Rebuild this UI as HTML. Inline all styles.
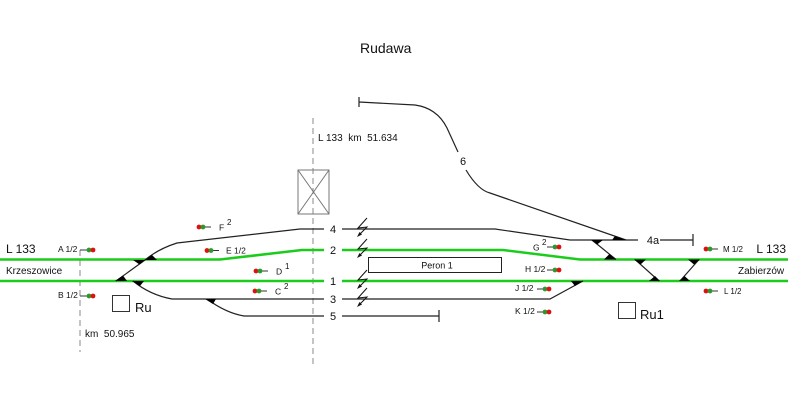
<!DOCTYPE html>
<html><head><meta charset="utf-8"><style>
html,body{margin:0;padding:0;background:#fff;}
svg{display:block;}
text{font-family:"Liberation Sans",Arial,sans-serif;fill:#111;white-space:pre;}
</style></head><body>
<svg width="788" height="401" viewBox="0 0 788 401" xmlns="http://www.w3.org/2000/svg">
<rect width="788" height="401" fill="#fff"/>
<!-- dashed verticals -->
<line x1="313" y1="118" x2="313" y2="367" stroke="#888" stroke-width="1" stroke-dasharray="6,4"/>
<line x1="80" y1="250" x2="80" y2="352" stroke="#888" stroke-width="1" stroke-dasharray="6,4"/>
<!-- crossing box -->
<g stroke="#777" stroke-width="1" fill="none">
<rect x="298" y="170" width="31" height="44"/>
<line x1="298" y1="170" x2="329" y2="214"/>
<line x1="329" y1="170" x2="298" y2="214"/>
</g>
<!-- green main lines -->
<g stroke="#1ccc1c" stroke-width="2.5" fill="none">
<path d="M0,259.5 L220,259.5 L302,250 L324,250"/>
<path d="M342,250 L503,250 L580,259.5 L788,259.5"/>
<path d="M0,281 L324,281"/>
<path d="M342,281 L788,281"/>
</g>
<!-- black tracks -->
<g stroke="#222" stroke-width="1.2" fill="none">
<path d="M116,281 L145,260 Q158,249 177,243 L300,229 L324,229"/>
<path d="M342,229 L495,229 L570,240 L638,240"/>
<path d="M660,240 L693,240 M693,234 L693,246"/>
<path d="M133,281 Q150,295 172,299 L324,299"/>
<path d="M342,299 L550,299 L583,281"/>
<path d="M207,299 Q226,313 244,316 L324,316"/>
<path d="M342,316 L439,316 M439,310 L439,322"/>
<path d="M359,97 L359,107 M359,102 L415,105 Q437,108 447,128 L458,152"/>
<path d="M466,170 Q478,190 490,193 L626,240"/>
<path d="M592,240 L616,259.5"/>
<path d="M635,259.5 L659,281"/>
<path d="M699,259.5 L680,281"/>
</g>
<!-- switch wedges -->
<g fill="#000">
<polygon points="115,281 127,281 123,275.5"/>
<polygon points="145,260 133,260 139.5,264.5"/>
<polygon points="145,260 157,260 152,255"/>
<polygon points="132,281 144,281 140,286"/>
<polygon points="205,299 216,299 213,304"/>
<polygon points="583,281 571,281 575,286"/>
<polygon points="626,240 612,240 615,236"/>
<polygon points="591,240 603,240 597,244.5"/>
<polygon points="616,259.5 604,259.5 609.5,254"/>
<polygon points="634,259.5 646,259.5 640.5,264.5"/>
<polygon points="660,281 649,281 655,276"/>
<polygon points="700,259.5 688,259.5 694,264.5"/>
<polygon points="679,281 690,281 684.5,276"/>
</g>
<!-- lightning symbols -->
<g stroke="#111" stroke-width="1" fill="none">
<path d="M367,218 L358,228 L367,227 L359,235"/>
<path d="M367,239 L358,249 L367,248 L359,256"/>
<path d="M367,270 L358,280 L367,279 L359,287"/>
<path d="M367,288 L358,298 L367,297 L359,305"/>
</g>
<g fill="#111">
<polygon points="357,237 362,234.5 359.5,232"/>
<polygon points="357,258 362,255.5 359.5,253"/>
<polygon points="357,289 362,286.5 359.5,284"/>
<polygon points="357,307 362,304.5 359.5,302"/>
</g>
<!-- platform -->
<rect x="368.5" y="257.5" width="133" height="15" fill="#fff" stroke="#222" stroke-width="1"/>
<text x="437" y="268.5" font-size="9" text-anchor="middle">Peron 1</text>
<!-- Ru boxes -->
<rect x="112.5" y="295.5" width="17" height="16" fill="none" stroke="#333" stroke-width="1"/>
<text x="135" y="312" font-size="13">Ru</text>
<rect x="618.5" y="302.5" width="17" height="16" fill="none" stroke="#333" stroke-width="1"/>
<text x="640" y="319" font-size="13">Ru1</text>
<!-- track labels -->
<g font-size="11" text-anchor="middle">
<text x="333" y="233">4</text>
<text x="333" y="254">2</text>
<text x="333" y="285">1</text>
<text x="333" y="303">3</text>
<text x="333" y="320">5</text>
<text x="463" y="165">6</text>
<text x="653" y="244">4a</text>
</g>
<!-- titles -->
<text x="360" y="53" font-size="14">Rudawa</text>
<text x="318" y="141" font-size="10">L 133&#160;&#160;km&#160;&#160;51.634</text>
<text x="6" y="253" font-size="12">L 133</text>
<text x="6" y="274" font-size="10">Krzeszowice</text>
<text x="85" y="337" font-size="10">km&#160;&#160;50.965</text>
<text x="786" y="253" font-size="12" text-anchor="end">L 133</text>
<text x="738" y="274" font-size="10">Zabierzów</text>
<!-- signals -->
<g stroke="#333" stroke-width="1">
<line x1="80" y1="250" x2="87" y2="250"/>
<line x1="80" y1="296" x2="87" y2="296"/>
<line x1="205" y1="227" x2="211" y2="227"/>
<line x1="213" y1="250.5" x2="219" y2="250.5"/>
<line x1="262" y1="271" x2="268" y2="271"/>
<line x1="261" y1="291" x2="267" y2="291"/>
<line x1="547" y1="247" x2="553" y2="247"/>
<line x1="547" y1="270" x2="553" y2="270"/>
<line x1="537" y1="289" x2="543" y2="289"/>
<line x1="537" y1="312" x2="543" y2="312"/>
<line x1="712" y1="249" x2="718" y2="249"/>
<line x1="712" y1="291" x2="718" y2="291"/>
</g>
<g>
<circle cx="89" cy="250" r="2.4" fill="#2a9a2a"/><circle cx="93" cy="250" r="2.4" fill="#e01010"/>
<circle cx="89" cy="296" r="2.4" fill="#2a9a2a"/><circle cx="93" cy="296" r="2.4" fill="#e01010"/>
<circle cx="199" cy="227" r="2.4" fill="#e01010"/><circle cx="203" cy="227" r="2.4" fill="#2a9a2a"/>
<circle cx="207" cy="250.5" r="2.4" fill="#e01010"/><circle cx="211" cy="250.5" r="2.4" fill="#2a9a2a"/>
<circle cx="256" cy="271" r="2.4" fill="#e01010"/><circle cx="260" cy="271" r="2.4" fill="#2a9a2a"/>
<circle cx="255" cy="291" r="2.4" fill="#e01010"/><circle cx="259" cy="291" r="2.4" fill="#2a9a2a"/>
<circle cx="555" cy="247" r="2.4" fill="#2a9a2a"/><circle cx="559" cy="247" r="2.4" fill="#e01010"/>
<circle cx="555" cy="270" r="2.4" fill="#2a9a2a"/><circle cx="559" cy="270" r="2.4" fill="#e01010"/>
<circle cx="545" cy="289" r="2.4" fill="#2a9a2a"/><circle cx="549" cy="289" r="2.4" fill="#e01010"/>
<circle cx="545" cy="312" r="2.4" fill="#2a9a2a"/><circle cx="549" cy="312" r="2.4" fill="#e01010"/>
<circle cx="706" cy="249" r="2.4" fill="#e01010"/><circle cx="710" cy="249" r="2.4" fill="#2a9a2a"/>
<circle cx="706" cy="291" r="2.4" fill="#e01010"/><circle cx="710" cy="291" r="2.4" fill="#2a9a2a"/>
</g>
<!-- signal labels -->
<g font-size="8.5">
<text x="58" y="252">A 1/2</text>
<text x="58" y="298">B 1/2</text>
<text x="219" y="230.5">F</text><text x="227" y="225" font-size="8">2</text>
<text x="226" y="253.5">E 1/2</text>
<text x="276" y="274.5">D</text><text x="285" y="269" font-size="8">1</text>
<text x="275" y="294.5">C</text><text x="284" y="289" font-size="8">2</text>
<text x="533" y="250.5">G</text><text x="542" y="245" font-size="8">2</text>
<text x="525" y="272">H 1/2</text>
<text x="515" y="291">J 1/2</text>
<text x="515" y="314">K 1/2</text>
<text x="723" y="252" font-size="8">M 1/2</text>
<text x="724" y="294" font-size="8">L 1/2</text>
</g>
</svg>
</body></html>
